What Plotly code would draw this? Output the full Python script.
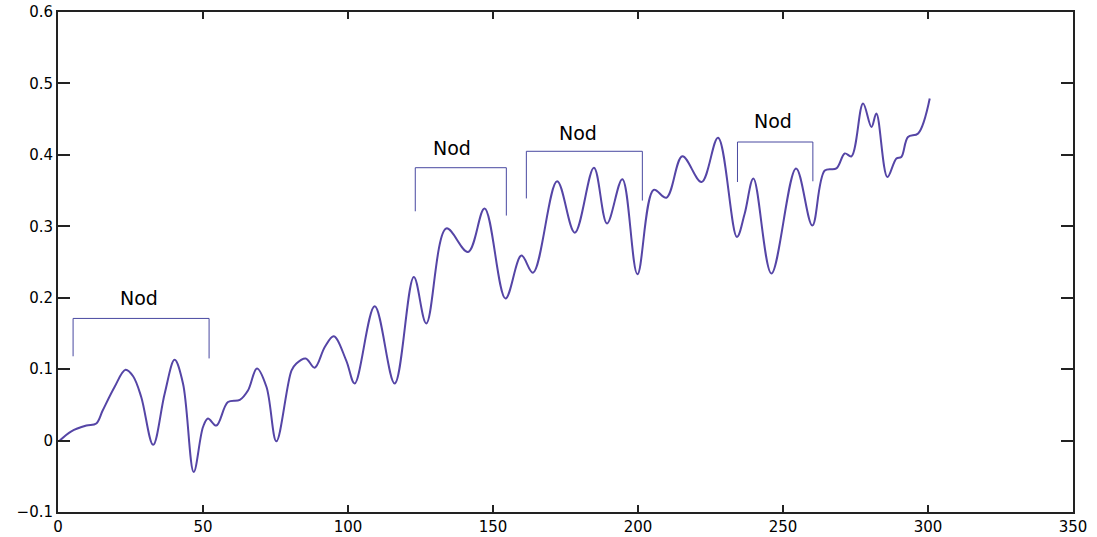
import plotly.graph_objects as go

# ---- data ----
sample_x = [0.6, 4.6, 9.8, 13.2, 15.4, 19.5, 23.3, 25.9, 28.7, 32.8, 36.8, 40.2, 43.1, 46.8,
            50.0, 51.7, 54.6, 58.6, 62.7, 65.5, 68.6, 71.9, 75.3, 80.5, 82.2, 85.4, 88.5,
            92.0, 95.1, 99.4, 102.3, 109.2, 116.1, 122.7, 127.0, 133.9, 141.4, 147.1,
            154.3, 159.8, 163.8, 172.1, 178.2, 184.8, 189.3, 194.6, 199.8, 205.4, 209.8,
            215.3, 221.9, 227.6, 234.1, 236.8, 239.8, 246.0, 254.5, 260.1, 264.4, 268.4,
            271.3, 273.6, 277.6, 280.5, 282.2, 286.0, 289.1, 290.8, 293.1, 296.6, 300.6]
signal = [0.000, 0.013, 0.021, 0.024, 0.042, 0.075, 0.099, 0.090, 0.061, -0.006, 0.066,
          0.113, 0.080, -0.044, 0.019, 0.031, 0.021, 0.054, 0.057, 0.070, 0.101, 0.075,
          -0.001, 0.098, 0.108, 0.115, 0.102, 0.131, 0.146, 0.112, 0.080, 0.188, 0.080,
          0.229, 0.164, 0.297, 0.264, 0.325, 0.199, 0.259, 0.235, 0.363, 0.291, 0.382,
          0.304, 0.366, 0.233, 0.351, 0.340, 0.398, 0.362, 0.424, 0.285, 0.318, 0.367,
          0.234, 0.381, 0.301, 0.378, 0.381, 0.402, 0.398, 0.472, 0.439, 0.458, 0.369,
          0.395, 0.397, 0.425, 0.430, 0.479]

bracket_left = [5.2, 123.2, 161.5, 234.3]
bracket_right = [52.1, 154.6, 201.5, 260.3]
bracket_top = [0.171, 0.382, 0.405, 0.418]
bracket_left_bottom = [0.118, 0.321, 0.339, 0.362]
bracket_right_bottom = [0.115, 0.315, 0.336, 0.363]
label_x = [27.9, 135.9, 179.3, 246.6]
label_y = [0.200, 0.409, 0.431, 0.447]
labels = ["Nod", "Nod", "Nod", "Nod"]

x_ticks = [0, 50, 100, 150, 200, 250, 300, 350]
x_tick_text = ["0", "50", "100", "150", "200", "250", "300", "350"]
y_ticks = [-0.1, 0, 0.1, 0.2, 0.3, 0.4, 0.5, 0.6]
y_tick_text = ["\u22120.1", "0", "0.1", "0.2", "0.3", "0.4", "0.5", "0.6"]

# ---- figure ----
fig = go.Figure()
fig.add_trace(go.Scatter(x=sample_x, y=signal, mode="lines",
                         line=dict(color="#5545a6", width=2, shape="spline", smoothing=1.0),
                         showlegend=False, hoverinfo="skip"))

for i in range(len(bracket_left)):
    fig.add_trace(go.Scatter(
        x=[bracket_left[i], bracket_left[i], bracket_right[i], bracket_right[i]],
        y=[bracket_left_bottom[i], bracket_top[i], bracket_top[i], bracket_right_bottom[i]],
        mode="lines", line=dict(color="#4848a0", width=1),
        showlegend=False, hoverinfo="skip"))
    fig.add_annotation(x=label_x[i], y=label_y[i], text=labels[i], showarrow=False,
                       xref="x", yref="y", xanchor="center", yanchor="middle",
                       font=dict(family="DejaVu Sans", size=19, color="black"))

axis_common = dict(showline=True, linecolor="#222222", linewidth=2, mirror="ticks",
                   ticks="inside", tickcolor="#222222", tickwidth=1.5,
                   showgrid=False, zeroline=False, automargin=False,
                   tickfont=dict(family="DejaVu Sans", size=15, color="black"))

fig.update_xaxes(range=[0, 350], tickvals=x_ticks, ticktext=x_tick_text, ticklen=7,
                 **axis_common)
fig.update_yaxes(range=[-0.1, 0.6], tickvals=y_ticks, ticktext=y_tick_text, ticklen=12,
                 **axis_common)

fig.update_layout(width=1097, height=537, margin=dict(l=58, r=24, t=12, b=25),
                  paper_bgcolor="white", plot_bgcolor="white")

fig.write_html("out.html")
